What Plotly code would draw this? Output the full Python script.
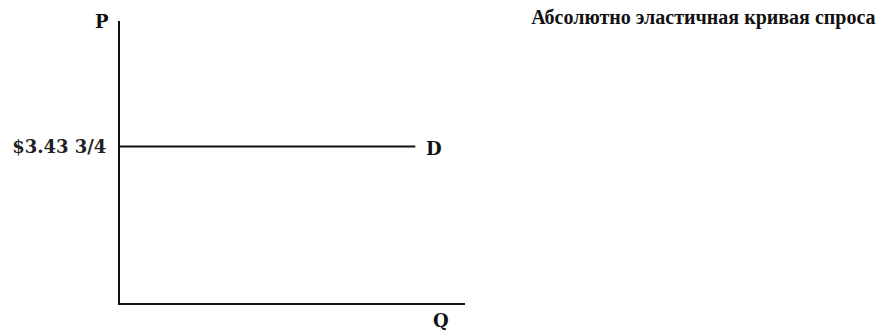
import plotly.graph_objects as go

# Data
price_value = [3.4375, 3.4375]
quantity = [0, 8.56]
price_tick_vals = [3.4375]
price_tick_text = ["$3.43 3/4"]
title_text = "Абсолютно эластичная кривая спроса"
curve_label = "D"
x_label = "Q"
y_label = "P"

serif = "DejaVu Serif"

fig = go.Figure()
fig.add_trace(go.Scatter(
    x=quantity, y=price_value, mode="lines",
    line=dict(color="#111111", width=2), showlegend=False, hoverinfo="skip"))

fig.add_annotation(x=quantity[-1], y=price_value[-1], text=f"<b>{curve_label}</b>",
                   xref="x", yref="y", showarrow=False, xanchor="left", yanchor="middle",
                   xshift=9, yshift=-2, font=dict(family=serif, size=18, color="#111111"))
fig.add_annotation(x=0, y=1, xref="x domain", yref="y domain", text=f"<b>{y_label}</b>",
                   showarrow=False, xanchor="right", yanchor="bottom", xshift=-9, yshift=-13,
                   font=dict(family=serif, size=18, color="#111111"))
fig.add_annotation(x=0.93, y=0, xref="x domain", yref="y domain", text=f"<b>{x_label}</b>",
                   showarrow=False, xanchor="center", yanchor="top", yshift=-5,
                   font=dict(family=serif, size=18, color="#111111"))

fig.update_layout(
    width=880, height=334,
    margin=dict(l=118, r=415, t=21, b=31),
    paper_bgcolor="white", plot_bgcolor="white",
    title=dict(text=f"<b>{title_text}</b>", x=0.995, xanchor="right", y=0.95, yanchor="middle",
               xref="container", yref="container",
               font=dict(family="Liberation Serif", size=20, color="#111111")),
    xaxis=dict(range=[0, 10], showgrid=False, zeroline=False, showticklabels=False,
               showline=True, linecolor="#111111", linewidth=2, ticks="", fixedrange=True),
    yaxis=dict(range=[0, 6.19], showgrid=False, zeroline=False, showline=True,
               linecolor="#111111", linewidth=2, ticks="", tickvals=price_tick_vals,
               ticktext=[f"<b>{t}</b>" for t in price_tick_text], ticklabelstandoff=8,
               tickfont=dict(family=serif, size=18, color="#222222"), fixedrange=True),
)
fig.write_html("out.html", config={"displayModeBar": False},
               post_script="document.body.style.margin='0';")
